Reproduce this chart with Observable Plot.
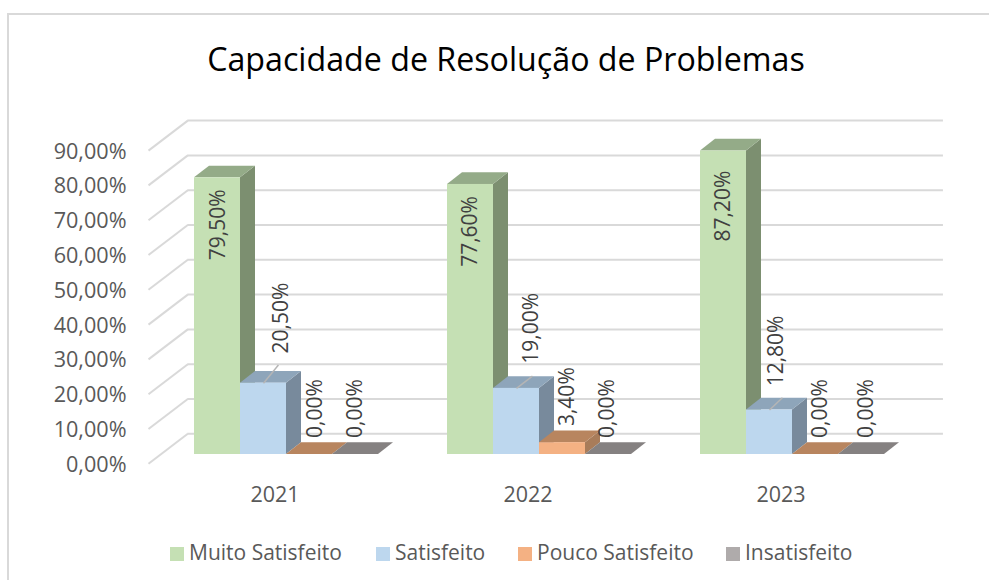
<!DOCTYPE html>
<html lang="pt">
<head>
<meta charset="utf-8">
<title>Capacidade de Resolução de Problemas</title>
<script src="https://cdn.jsdelivr.net/npm/d3@7"></script>
<script src="https://cdn.jsdelivr.net/npm/@observablehq/plot@0.6"></script>
<style>
  html, body { margin: 0; padding: 0; background: #fff; }
  body { width: 989px; height: 580px; overflow: hidden; position: relative; font-family: "Open Sans", sans-serif; }
  #frame { position: absolute; left: 7px; top: 13px; width: 990px; height: 580px; border: 2px solid #d9d9d9; box-sizing: border-box; pointer-events: none; }
  #title { position: absolute; left: 0; top: 36px; width: 1012px; text-align: center; font-size: 32.2px; line-height: 46px; color: #000; }
  #chart { position: absolute; left: 0; top: 100px; }
  #chart svg { display: block; }
  #legend { position: absolute; left: 0; top: 538px; width: 989px; height: 28px; font-size: 21px; line-height: 28px; color: #595959; }
  #legend span.item { position: absolute; top: 0; white-space: nowrap; }
  #legend i { display: inline-block; width: 14px; height: 14px; margin-right: 5px; vertical-align: -1px; }
</style>
</head>
<body>
<div id="frame"></div>
<div id="title">Capacidade de Resolução de Problemas</div>
<div id="chart"></div>
<div id="legend"></div>
<script>
const years = ["2021", "2022", "2023"];
const seriesNames = ["Muito Satisfeito", "Satisfeito", "Pouco Satisfeito", "Insatisfeito"];
const muitoSatisfeito = [79.5, 77.6, 87.2];
const satisfeito = [20.5, 19.0, 12.8];
const poucoSatisfeito = [0, 3.4, 0];
const insatisfeito = [0, 0, 0];
const yTicks = [0, 10, 20, 30, 40, 50, 60, 70, 80, 90];

const frontColors = ["#C5E0B4", "#BDD7EE", "#F4B183", "#AFABAB"];
const topColors = ["#94AB88", "#8EA5BA", "#B8855F", "#858181"];
const sideColors = ["#7C8F70", "#788A9C", "#A87C5A", "#7F7B7B"];

const allValues = [muitoSatisfeito, satisfeito, poucoSatisfeito, insatisfeito];
// Left to right, so that each bar covers its neighbour's side face
const data = years.flatMap((year, y) =>
  seriesNames.map((series, s) => ({ series, s, year, y, value: allValues[s][y] })));

// Layout of the 3D box, in pixels and in scale units
const pxPerGroup = 253, pxPerPct = 3.48;
const wallDX = 39.3, wallDY = 30;
const barDX = 12.2, barDY = 9.3;     // bars stand this far into the box
const faceDX = 15, faceDY = 11.7;    // depth of one bar
const groupPad = 0.1336, barW = 46 / pxPerGroup;

const x1 = d => d.y + groupPad + d.s * barW;
const x2 = d => x1(d) + barW;
const xc = d => x1(d) + barW / 2;
const pct = v => v.toFixed(2).replace(".", ",") + "%";

// Label nudges [year][series]: dx, dy in pixels from the bar-top centre
const labelDX = [[1, 18, 6, 0], [0, 15, 5, -1], [0, 7, 5, 5]];
const labelDY = [[47, -65, -46, -46], [47, -60, -46, -46], [55, -59, -46, -46]];
// Leader lines of the "Satisfeito" labels
const leaderX = [0.059, 0.063, 0.051];
const leaderY = [5.2, 3.5, 3.5];

const depthX = wallDX / pxPerGroup, depthY = wallDY / pxPerPct;
const gridEnd = 3.142;
const gridColor = "#d9d9d9";

function withFaces(index, scales, values, dims, ctx, next) {
  const g = next(index, scales, values, dims, ctx);
  const rects = Array.from(g.querySelectorAll("rect"));
  const NS = "http://www.w3.org/2000/svg";
  Array.from(index).forEach((i, k) => {
    const d = data[i];
    const a = values.x1[i], b = values.x2[i];
    const t = Math.min(values.y1[i], values.y2[i]), base = Math.max(values.y1[i], values.y2[i]);
    const poly = (pts, fill) => {
      const p = document.createElementNS(NS, "polygon");
      p.setAttribute("points", pts.map(q => q.join(",")).join(" "));
      p.setAttribute("fill", fill);
      g.insertBefore(p, rects[k]);
    };
    poly([[b, t], [b + faceDX, t - faceDY], [b + faceDX, base - faceDY], [b, base]], sideColors[d.s]);
    poly([[a, t], [a + faceDX, t - faceDY], [b + faceDX, t - faceDY], [b, t]], topColors[d.s]);
  });
  return g;
}

const plot = Plot.plot({
  width: 989,
  height: 410,
  marginLeft: 148,
  marginRight: 82,
  marginTop: 0,
  marginBottom: 410 - 363.3,
  style: { fontFamily: "'Open Sans', sans-serif", background: "transparent", overflow: "visible" },
  x: { type: "linear", domain: [0, 3], label: null },
  y: { domain: [0, 90], range: [363.3, 50.1], label: null },
  marks: [
    Plot.link(yTicks, { x1: 0, x2: depthX, y1: d => d, y2: d => d + depthY, stroke: gridColor, strokeWidth: 2 }),
    Plot.ruleY(yTicks, { y: d => d + depthY, x1: depthX, x2: gridEnd, stroke: gridColor, strokeWidth: 2 }),
    Plot.axisY({ ticks: yTicks, tickFormat: pct, tickSize: 0, tickPadding: 22, fontSize: 21.6, dy: 1, color: "#595959", label: null }),
    Plot.axisX({ ticks: [0.5, 1.5, 2.5], tickFormat: (d, i) => years[i], tickSize: 0, tickPadding: 23, fontSize: 21.5, color: "#595959", label: null }),
    Plot.rect(data, {
      x1, x2, y1: 0, y2: "value",
      fill: d => frontColors[d.s],
      dx: barDX, dy: -barDY,
      render: withFaces
    }),
    Plot.link(data.filter(d => d.s === 1), {
      x1: xc, x2: d => xc(d) + leaderX[d.y],
      y1: "value", y2: d => d.value + leaderY[d.y],
      dx: barDX, dy: -barDY, stroke: "#b5b5b5", strokeWidth: 1.5
    }),
    ...data.map(d => Plot.text([d], {
      x: xc, y: "value", text: d => pct(d.value), rotate: -90,
      dx: barDX + labelDX[d.y][d.s], dy: -barDY + labelDY[d.y][d.s],
      fontSize: 21, fill: "#404040", lineAnchor: "middle", textAnchor: "middle"
    }))
  ]
});

document.getElementById("chart").append(plot);

const legendLeft = [170, 376, 518, 726];
const legend = document.getElementById("legend");
seriesNames.forEach((name, s) => {
  const item = document.createElement("span");
  item.className = "item";
  item.style.left = legendLeft[s] + "px";
  const sw = document.createElement("i");
  sw.style.background = frontColors[s];
  item.append(sw, name);
  legend.append(item);
});
</script>
</body>
</html>
